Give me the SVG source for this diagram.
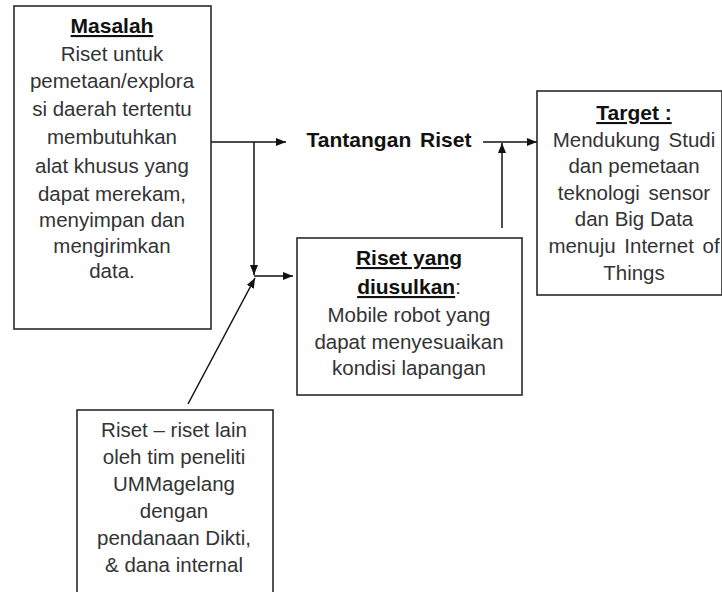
<svg xmlns="http://www.w3.org/2000/svg" width="722" height="592" viewBox="0 0 722 592">
<style>
.box{fill:#fff;stroke:#2a2a2a;stroke-width:1.6}
.t{font-family:"Liberation Sans",Arial,sans-serif;font-size:20.5px;fill:#333;text-anchor:middle}
.b{font-weight:bold;fill:#111;font-size:21px}
.u{text-decoration:underline}
.c{stroke:#111;stroke-width:1.5;fill:none;marker-end:url(#ah)}
</style>
<defs>
<marker id="ah" viewBox="0 0 10 8" refX="10" refY="4" markerWidth="10" markerHeight="8" markerUnits="userSpaceOnUse" orient="auto">
<path d="M0,0 L10,4 L0,8 Z" fill="#111"/>
</marker>
</defs>
<rect width="722" height="592" fill="#fff"/>
<g id="masalah">
<rect class="box" x="14" y="6" width="197" height="323"/>
<text class="t b u" x="112" y="33">Masalah</text>
<text class="t" x="112" y="61">Riset untuk</text>
<text class="t" x="112" y="88">pemetaan/explora</text>
<text class="t" x="112" y="116">si daerah tertentu</text>
<text class="t" x="112" y="144">membutuhkan</text>
<text class="t" x="112" y="173">alat khusus  yang</text>
<text class="t" x="112" y="201">dapat merekam,</text>
<text class="t" x="112" y="227">menyimpan dan</text>
<text class="t" x="112" y="253">mengirimkan</text>
<text class="t" x="112" y="278">data.</text>
</g>
<g id="tantangan">
<text class="t b" x="389" y="147" word-spacing="3">Tantangan Riset</text>
</g>
<g id="usulan">
<rect class="box" x="297" y="238" width="225" height="157"/>
<text class="t b u" x="409" y="265">Riset yang</text>
<text class="t" x="409" y="294"><tspan class="b u">diusulkan</tspan>:</text>
<text class="t" x="409" y="322">Mobile robot yang</text>
<text class="t" x="409" y="349">dapat menyesuaikan</text>
<text class="t" x="409" y="375">kondisi lapangan</text>
</g>
<g id="target">
<rect class="box" x="537" y="91" width="185" height="204"/>
<text class="t b u" x="634" y="120">Target :</text>
<text class="t" x="634" y="147" word-spacing="3">Mendukung Studi</text>
<text class="t" x="634" y="173">dan pemetaan</text>
<text class="t" x="634" y="200" word-spacing="3">teknologi sensor</text>
<text class="t" x="634" y="226">dan Big Data</text>
<text class="t" x="634" y="253" word-spacing="3">menuju Internet of</text>
<text class="t" x="634" y="280">Things</text>
</g>
<g id="lain">
<rect class="box" x="77" y="410" width="196" height="200"/>
<text class="t" x="174" y="437">Riset – riset lain</text>
<text class="t" x="174" y="464">oleh tim peneliti</text>
<text class="t" x="174" y="491">UMMagelang</text>
<text class="t" x="174" y="518">dengan</text>
<text class="t" x="174" y="545">pendanaan Dikti,</text>
<text class="t" x="174" y="572">&amp; dana internal</text>
</g>
<g id="connectors">
<path class="c" d="M211,142 H286"/>
<path class="c" d="M254,142 V275"/>
<path class="c" d="M254,276 H293"/>
<path class="c" d="M188,404 L255,278"/>
<path class="c" d="M483,142 H537"/>
<path class="c" d="M502,228 V143"/>
</g>
</svg>
